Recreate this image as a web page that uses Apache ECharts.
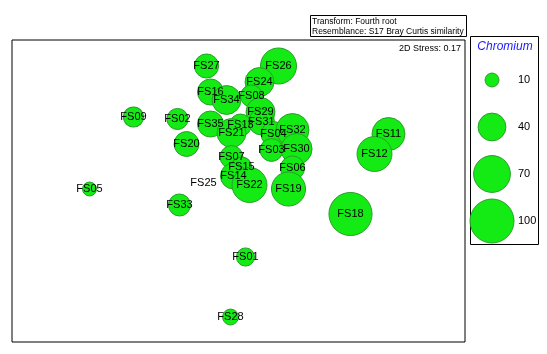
<!DOCTYPE html>
<html>
<head>
<meta charset="utf-8">
<script src="https://cdn.jsdelivr.net/npm/echarts@6/dist/echarts.min.js"></script>
<style>
  html, body { margin: 0; padding: 0; background: #fff; }
  #chart { width: 547px; height: 354px; }
</style>
</head>
<body>
<div id="chart"></div>
<script>
// MDS ordination (arbitrary units), Chromium bubble values
const samples = ['FS27', 'FS26', 'FS24', 'FS16', 'FS34', 'FS08', 'FS09', 'FS02', 'FS29', 'FS35', 'FS13', 'FS21', 'FS31', 'FS04', 'FS32', 'FS20', 'FS07', 'FS03', 'FS30', 'FS11', 'FS12', 'FS06', 'FS15', 'FS14', 'FS22', 'FS19', 'FS18', 'FS25', 'FS05', 'FS33', 'FS01', 'FS28']
const mdsX = [-0.32, 0.40, 0.21, -0.28, -0.12, 0.13, -1.05, -0.61, 0.22, -0.28, 0.02, -0.07, 0.23, 0.35, 0.54, -0.52, -0.07, 0.33, 0.58, 1.50, 1.36, 0.54, 0.03, -0.05, 0.11, 0.50, 1.12, -0.35, -1.49, -0.59, 0.07, -0.08]
const mdsY = [1.25, 1.25, 1.09, 0.99, 0.91, 0.95, 0.74, 0.72, 0.79, 0.67, 0.66, 0.58, 0.69, 0.57, 0.61, 0.47, 0.34, 0.41, 0.42, 0.57, 0.37, 0.23, 0.24, 0.15, 0.06, 0.02, -0.23, 0.08, 0.02, -0.14, -0.66, -1.26]
const chromium = [30, 67, 43, 35, 43, 25, 21, 23, 43, 35, 25, 43, 35, 32, 56, 32, 27, 27, 50, 56, 63, 30, 21, 35, 63, 60, 96, 0, 10, 25, 17, 13]
const legendValues = [10, 40, 70, 100]

const fill = '#14ea14'
const edge = '#27a027'
const font = 'Liberation Sans, Arial, sans-serif'
const sizeOf = v => 4.4 * Math.sqrt(v)

const chart = echarts.init(document.getElementById('chart'))

chart.setOption({
  animation: false,
  grid: [
    { left: 12, top: 40, width: 453, height: 302, show: true, borderColor: '#000', borderWidth: 1, backgroundColor: '#fff' },
    { left: 470, top: 56.5, width: 68, height: 188 }
  ],
  xAxis: [
    { type: 'value', gridIndex: 0, min: -2.265, max: 2.265, show: false },
    { type: 'value', gridIndex: 1, min: 0, max: 68, show: false }
  ],
  yAxis: [
    { type: 'value', gridIndex: 0, min: -1.51, max: 1.51, show: false },
    { type: 'category', gridIndex: 1, inverse: true, data: legendValues.map(String), show: false }
  ],
  graphic: [
    { type: 'rect', shape: { x: 310.5, y: 15.5, width: 156, height: 21 }, style: { fill: '#fff', stroke: '#000', lineWidth: 1 } },
    { type: 'text', x: 312, y: 17, style: { text: 'Transform: Fourth root', font: '8.5px ' + font, fill: '#000' } },
    { type: 'text', x: 312, y: 27, style: { text: 'Resemblance: S17 Bray Curtis similarity', font: '8.5px ' + font, fill: '#000' } },
    { type: 'text', x: 461, y: 44, style: { text: '2D Stress: 0.17', font: '9px ' + font, fill: '#000', align: 'right' } },
    { type: 'rect', shape: { x: 470.5, y: 36.5, width: 68, height: 208 }, style: { fill: 'none', stroke: '#000', lineWidth: 1 } },
    { type: 'text', x: 505, y: 41, style: { text: 'Chromium', font: 'italic 12px ' + font, fill: '#1a1aff', align: 'center' } }
  ],
  series: [
    {
      type: 'scatter',
      xAxisIndex: 0,
      yAxisIndex: 0,
      data: samples.map((s, i) => ({ name: s, value: [mdsX[i], mdsY[i], chromium[i]] })),
      symbolSize: d => sizeOf(d[2]),
      itemStyle: { color: fill, borderColor: edge, borderWidth: 1, opacity: 1 },
      label: {
        show: true,
        position: 'inside',
        formatter: p => p.name,
        color: '#000',
        fontFamily: font,
        fontSize: 11
      },
      labelLayout: { hideOverlap: false }
    },
    {
      type: 'scatter',
      xAxisIndex: 1,
      yAxisIndex: 1,
      data: legendValues.map(v => [22, String(v), v]),
      symbolSize: d => sizeOf(d[2]),
      itemStyle: { color: fill, borderColor: edge, borderWidth: 1, opacity: 1 }
    },
    {
      type: 'scatter',
      xAxisIndex: 1,
      yAxisIndex: 1,
      data: legendValues.map(v => [47, String(v), v]),
      symbolSize: 2,
      itemStyle: { color: '#fff', opacity: 1 },
      label: {
        show: true,
        position: 'right',
        distance: 0,
        formatter: p => String(p.value[2]),
        color: '#000',
        opacity: 1,
        fontFamily: font,
        fontSize: 11
      }
    }
  ]
})
</script>
</body>
</html>
